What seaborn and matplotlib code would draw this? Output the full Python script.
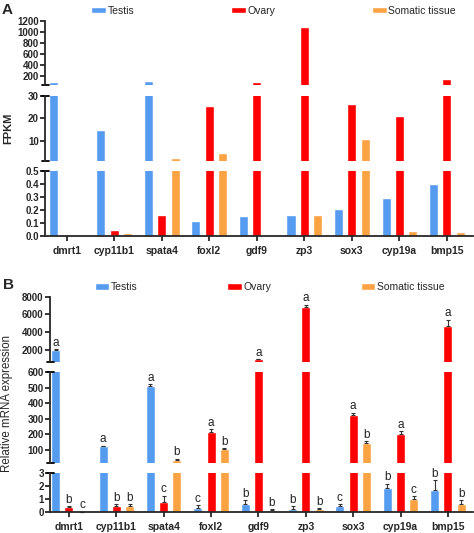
import numpy as np
import pandas as pd
import seaborn as sns
import matplotlib.pyplot as plt

sns.set_style(style='ticks')
plt.rcParams['font.family'] = ['Liberation Sans', 'DejaVu Sans']

genes = ['dmrt1', 'cyp11b1', 'spata4', 'foxl2', 'gdf9', 'zp3', 'sox3', 'cyp19a', 'bmp15']
tissues = ['Testis', 'Ovary', 'Somatic tissue']
colors = ['#559CF0', '#FF0000', '#FBA243']

# panel A - FPKM
fpkm_testis = [85, 14.6, 105, 0.117, 0.155, 0.157, 0.207, 0.29, 0.40]
fpkm_ovary = [0.008, 0.045, 0.163, 25.3, 100, 1100, 26.3, 21.1, 140]
fpkm_somatic = [0.006, 0.025, 2.4, 4.4, 0.0, 0.163, 10.8, 0.04, 0.028]

# panel B - relative mRNA expression (mean, sd, letters)
qpcr_testis = [1970, 120, 510, 0.33, 0.6, 0.25, 0.47, 1.88, 1.68]
qpcr_ovary = [0.41, 0.49, 0.8, 213, 900, 6850, 323, 200, 4650]
qpcr_somatic = [0.02, 0.49, 35, 105, 0.18, 0.2, 143, 1.03, 0.62]
sd_testis = [60, 4, 12, 0.2, 0.3, 0.2, 0.13, 0.3, 0.8]
sd_ovary = [0.05, 0.12, 0.45, 20, 40, 250, 15, 20, 750]
sd_somatic = [0.01, 0.1, 6, 5, 0.05, 0.1, 12, 0.2, 0.3]
sig_testis = ['a', 'a', 'a', 'c', 'b', 'b', 'c', 'b', 'b']
sig_ovary = ['b', 'b', 'c', 'a', 'a', 'a', 'a', 'a', 'a']
sig_somatic = ['c', 'b', 'b', 'b', 'b', 'b', 'b', 'c', 'b']


def long_df(t, o, s):
    rows = []
    for tissue, vals in zip(tissues, [t, o, s]):
        for g, v in zip(genes, vals):
            rows.append({'gene': g, 'tissue': tissue, 'value': v})
    return pd.DataFrame(rows)


df_a = long_df(fpkm_testis, fpkm_ovary, fpkm_somatic)
df_b = long_df(qpcr_testis, qpcr_ovary, qpcr_somatic)

H = 533
fig = plt.figure(figsize=(4.74, 5.33), dpi=100)


def seg_axes(left, width, top_px, bot_px):
    return fig.add_axes([left, 1 - bot_px / H, width, (bot_px - top_px) / H])


def draw_seg(ax, df, ylim, yticks, ylabels, xlim, bottom=False, top=False, legend=False):
    sns.barplot(data=df, x='gene', y='value', hue='tissue', order=genes, hue_order=tissues,
                palette=colors, saturation=1, width=0.84, gap=0.32, errorbar=None,
                legend=legend, ax=ax)
    ax.set_ylim(*ylim)
    ax.set_xlim(*xlim)
    ax.set_yticks(yticks)
    ax.set_yticklabels(ylabels, fontweight='bold', fontsize=7)
    ax.set_xlabel('')
    ax.set_ylabel('')
    for s in ['top', 'right']:
        ax.spines[s].set_visible(False)
    ax.spines['left'].set_linewidth(1.3)
    ax.spines['bottom'].set_linewidth(1.3)
    ax.tick_params(axis='y', width=1.3, length=3.5, pad=1)
    if bottom:
        ax.set_xticks(range(len(genes)))
        ax.set_xticklabels(genes, fontweight='bold', fontsize=7.5)
        ax.tick_params(axis='x', width=1.3, length=3.5, pad=4)
    else:
        ax.spines['bottom'].set_visible(False)
        ax.tick_params(axis='x', bottom=False, labelbottom=False)
    # break caps on the left axis
    dx = 3.5 / (ax.get_position().width * 474)
    ends = [ylim[1]] if not top else []
    if not bottom:
        ends.append(ylim[0])
    for yv in ends:
        ax.plot([-dx, dx], [yv, yv], transform=ax.get_yaxis_transform(),
                color='black', lw=1.3, clip_on=False)


# ---------------- panel A ----------------
xa = (-0.457, 8.55)
la, wa = 45 / 474, 428 / 474
axA3 = seg_axes(la, wa, 21, 85.4)
axA2 = seg_axes(la, wa, 95.7, 160.7)
axA1 = seg_axes(la, wa, 170.7, 236)
draw_seg(axA3, df_a, (30, 1200), [200, 400, 600, 800, 1000, 1200],
         ['200', '400', '600', '800', '1000', '1200'], xa, top=True, legend=True)
draw_seg(axA2, df_a, (1, 30), [10, 20, 30], ['10', '20', '30'], xa)
draw_seg(axA1, df_a, (0, 0.5), [0, 0.1, 0.2, 0.3, 0.4, 0.5],
         ['0.0', '0.1', '0.2', '0.3', '0.4', '0.5'], xa, bottom=True)
sns.move_legend(axA3, loc='center', bbox_to_anchor=(0.577, 0.98), bbox_transform=fig.transFigure,
                ncol=3, title=None, frameon=False, fontsize=7.5, handlelength=1.4,
                handleheight=0.65, handletextpad=0.15, columnspacing=9.3)

# ---------------- panel B ----------------
xb = (-0.40, 8.53)
lb, wb = 50 / 474, 423 / 474
axB3 = seg_axes(lb, wb, 296.7, 362)
axB2 = seg_axes(lb, wb, 372.3, 462.7)
axB1 = seg_axes(lb, wb, 473.3, 512)
segs_b = [(axB1, (0, 3)), (axB2, (15, 600)), (axB3, (600, 8000))]
draw_seg(axB3, df_b, (600, 8000), [2000, 4000, 6000, 8000],
         ['2000', '4000', '6000', '8000'], xb, top=True, legend=True)
draw_seg(axB2, df_b, (15, 600), [100, 200, 300, 400, 500, 600],
         ['100', '200', '300', '400', '500', '600'], xb)
draw_seg(axB1, df_b, (0, 3), [0, 1, 2, 3], ['0', '1', '2', '3'], xb, bottom=True)
sns.move_legend(axB3, loc='center', bbox_to_anchor=(0.569, 1 - 286.7 / H), bbox_transform=fig.transFigure,
                ncol=3, title=None, frameon=False, fontsize=7.5, handlelength=1.4,
                handleheight=0.65, handletextpad=0.15, columnspacing=8.6)

# error bars and significance letters
for hi, (vals, sds, sigs) in enumerate(zip([qpcr_testis, qpcr_ovary, qpcr_somatic],
                                           [sd_testis, sd_ovary, sd_somatic],
                                           [sig_testis, sig_ovary, sig_somatic])):
    for gi in range(len(genes)):
        topv = vals[gi] + sds[gi]
        for ax, (lo, hi_lim) in segs_b:
            if lo <= topv <= hi_lim or (ax is axB3 and topv > hi_lim):
                break
        else:
            ax = axB2
        bar = ax.containers[hi][gi]
        xc = bar.get_x() + bar.get_width() / 2
        if vals[gi] >= segs_b[[a for a, _ in segs_b].index(ax)][1][0]:
            ax.errorbar([xc], [vals[gi]], yerr=[[0], [sds[gi]]], fmt='none', ecolor='#333333',
                        elinewidth=0.8, capsize=1.6, capthick=0.8, clip_on=False)
        ax.annotate(sigs[gi], (xc, topv), xytext=(0, 0.3), textcoords='offset points',
                    ha='center', va='bottom', fontsize=8.5, color='#222222', annotation_clip=False)

# labels
fig.text(8.5 / 474, 1 - 128 / H, 'FPKM', rotation=90, ha='center', va='center',
         fontsize=8, fontweight='bold')
fig.text(7.5 / 474, 1 - 404 / H, 'Relative mRNA expression', rotation=90, ha='center',
         va='center', fontsize=8.3)
fig.text(2 / 474, 1 - 3 / H, 'A', ha='left', va='top', fontsize=11, fontweight='bold')
fig.text(3 / 474, 1 - 278 / H, 'B', ha='left', va='top', fontsize=11, fontweight='bold')

fig.savefig('out.png', dpi=100)
